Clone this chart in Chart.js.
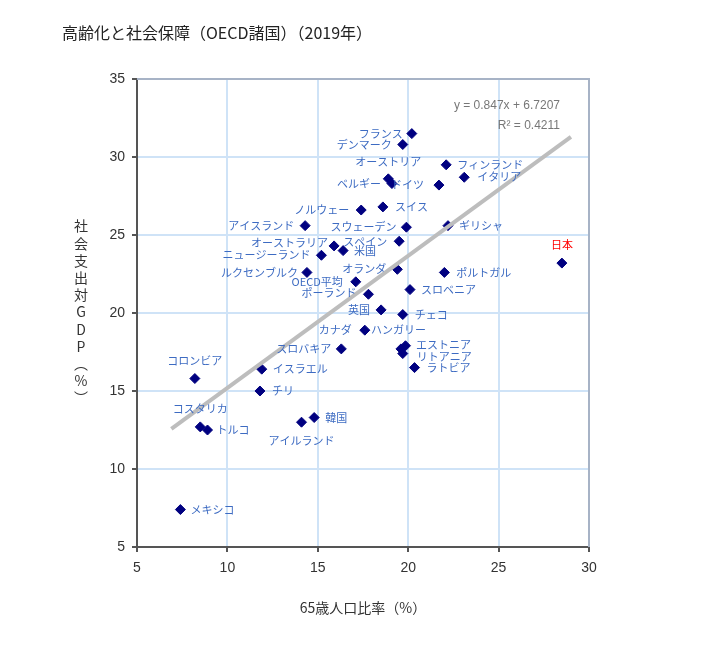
<!DOCTYPE html>
<html lang="ja">
<head>
<meta charset="UTF-8" />
<title>高齢化と社会保障</title>
<script src="https://cdn.jsdelivr.net/npm/chart.js@4.4.1/dist/chart.umd.min.js"></script>
<style>
  body { margin: 0; background: #fff; }
</style>
</head>
<body>
<div style="width: 703px; height: 650px">
  <canvas id="chart" width="703" height="650"></canvas>
</div>
<script>
// data
const countries = [
  "フランス", "デンマーク", "オーストリア", "ベルギー", "ドイツ", "フィンランド", "イタリア",
  "ノルウェー", "スイス", "アイスランド", "スウェーデン", "ギリシャ", "スペイン", "オーストラリア",
  "米国", "ニュージーランド", "オランダ", "ルクセンブルク", "ポルトガル", "OECD平均", "スロベニア",
  "ポーランド", "英国", "チェコ", "カナダ", "ハンガリー", "エストニア", "リトアニア", "ラトビア",
  "スロバキア", "コロンビア", "イスラエル", "チリ", "コスタリカ", "トルコ", "韓国", "アイルランド",
  "メキシコ", "日本"
];
const aged65 = [
  20.2, 19.7, 18.9, 19.1, 21.7, 22.1, 23.1,
  17.4, 18.6, 14.3, 19.9, 22.2, 19.5, 15.9,
  16.4, 15.2, 19.4, 14.4, 22.0, 17.1, 20.1,
  17.8, 18.5, 19.7, 17.6, 19.85, 19.6, 19.7, 20.35,
  16.3, 8.2, 11.9, 11.8, 8.5, 8.9, 14.8, 14.1,
  7.4, 28.5
];
const socialSpending = [
  31.5, 30.8, 28.6, 28.3, 28.2, 29.5, 28.7,
  26.6, 26.8, 25.6, 25.5, 25.6, 24.6, 24.3,
  24.0, 23.7, 22.8, 22.6, 22.6, 22.0, 21.5,
  21.2, 20.2, 19.9, 18.9, 17.9, 17.7, 17.4, 16.5,
  17.7, 15.8, 16.4, 15.0, 12.7, 12.5, 13.3, 13.0,
  7.4, 23.2
];
const xTicks = [5, 10, 15, 20, 25, 30];
const yTicks = [5, 10, 15, 20, 25, 30, 35];
const trendSlope = 0.847;
const trendIntercept = 6.7207;
const trendText = ["y = 0.847x + 6.7207", "R² = 0.4211"];

// label placement: [dx, dy, align]
const labelPlace = {
  "フランス": [-9, 0, "right"], "デンマーク": [-11, 0, "right"], "オーストリア": [0, -17, "center"],
  "ベルギー": [-11, 0, "right"], "ドイツ": [-15, 0, "right"], "フィンランド": [11, 0, "left"],
  "イタリア": [13, 0, "left"], "ノルウェー": [-12, 0, "right"], "スイス": [12, 0, "left"],
  "アイスランド": [-11, 0, "right"], "スウェーデン": [-10, 0, "right"], "ギリシャ": [11, 0, "left"],
  "スペイン": [-12, 1, "right"], "オーストラリア": [-6, -3, "right"], "米国": [11, 0, "left"],
  "ニュージーランド": [-11, 0, "right"], "オランダ": [-11, -1, "right"], "ルクセンブルク": [-9, 0, "right"],
  "ポルトガル": [12, 0, "left"], "OECD平均": [-13, 0, "right"], "スロベニア": [11, 0, "left"],
  "ポーランド": [-12, -1, "right"], "英国": [-11, 0, "right"], "チェコ": [12, 0, "left"],
  "カナダ": [-13, 0, "right"], "ハンガリー": [-7, -16, "center"], "エストニア": [15, -4, "left"],
  "リトアニア": [14, 3, "left"], "ラトビア": [12, 0, "left"], "スロバキア": [-10, 0, "right"],
  "コロンビア": [0, -18, "center"], "イスラエル": [11, 0, "left"], "チリ": [12, 0, "left"],
  "コスタリカ": [0, -18, "center"], "トルコ": [9, 0, "left"], "韓国": [11, 0, "left"],
  "アイルランド": [0, 19, "center"], "メキシコ": [10, 0, "left"], "日本": [0, -18, "center"]
};

const jpFont = '"Noto Sans CJK JP", "Noto Sans", sans-serif';

const points = countries.map((c, i) => ({ x: aged65[i], y: socialSpending[i] }));
const xMin = Math.min(...aged65) - 0.5;
const xMax = Math.max(...aged65) + 0.5;
const trend = [
  { x: xMin, y: trendSlope * xMin + trendIntercept },
  { x: xMax, y: trendSlope * xMax + trendIntercept }
];

const decorPlugin = {
  id: "decor",
  beforeDatasetsDraw(chart) {
    const { ctx, chartArea: a } = chart;
    ctx.save();
    ctx.strokeStyle = "#a7b3c6";
    ctx.lineWidth = 2;
    ctx.beginPath();
    ctx.moveTo(a.left, a.top);
    ctx.lineTo(a.right, a.top);
    ctx.lineTo(a.right, a.bottom);
    ctx.stroke();
    ctx.restore();
  },
  afterDraw(chart) {
    const { ctx, chartArea: a, scales } = chart;
    ctx.save();
    // title
    ctx.fillStyle = "#222";
    ctx.font = "16px " + jpFont;
    ctx.textAlign = "left";
    ctx.textBaseline = "middle";
    ctx.fillText("高齢化と社会保障（OECD諸国）（2019年）", 62, 33);

    // axis titles
    ctx.fillStyle = "#333";
    ctx.font = "14px " + jpFont;
    ctx.textAlign = "center";
    ctx.fillText("65歳人口比率（%）", (a.left + a.right) / 2, 608);
    const yChars = ["社", "会", "支", "出", "対", "G", "D", "P", "︵", "%", "︶"];
    yChars.forEach((ch, i) => ctx.fillText(ch, 81, 226 + i * 17.2));

    // trend equation
    ctx.fillStyle = "#777";
    ctx.font = "12px 'Liberation Sans', Arial, sans-serif";
    ctx.textAlign = "right";
    ctx.fillText(trendText[0], 560, 106);
    ctx.fillText(trendText[1], 560, 126);

    // point labels
    ctx.font = "11px " + jpFont;
    countries.forEach((name, i) => {
      const px = scales.x.getPixelForValue(aged65[i]);
      const py = scales.y.getPixelForValue(socialSpending[i]);
      const p = labelPlace[name] || [10, 0, "left"];
      ctx.fillStyle = name === "日本" ? "#ff0000" : "#3d6bc2";
      ctx.textAlign = p[2];
      ctx.fillText(name, px + p[0], py + p[1]);
    });
    ctx.restore();
  }
};

new Chart(document.getElementById("chart"), {
  type: "scatter",
  data: {
    datasets: [
      {
        type: "line",
        data: trend,
        borderColor: "#bdbdbd",
        borderWidth: 4,
        pointRadius: 0,
        fill: false
      },
      {
        data: points,
        pointStyle: "rectRot",
        pointRadius: 5,
        backgroundColor: "#000080",
        borderColor: "#000080",
        borderWidth: 1
      }
    ]
  },
  plugins: [decorPlugin],
  options: {
    responsive: false,
    animation: false,
    layout: { padding: { top: 79, right: 114, left: 0, bottom: 0 } },
    plugins: {
      legend: { display: false },
      tooltip: { enabled: false }
    },
    scales: {
      x: {
        type: "linear",
        min: xTicks[0],
        max: xTicks[xTicks.length - 1],
        afterBuildTicks: (s) => { s.ticks = xTicks.map((v) => ({ value: v })); },
        afterFit: (s) => { s.height = 103; },
        grid: { color: "#cfe3f7", lineWidth: 2, tickLength: 5, tickColor: "#555" },
        border: { color: "#555", width: 2 },
        ticks: {
          color: "#333",
          padding: 8,
          font: { family: "'Liberation Sans', Arial, sans-serif", size: 14 }
        }
      },
      y: {
        type: "linear",
        min: yTicks[0],
        max: yTicks[yTicks.length - 1],
        afterBuildTicks: (s) => { s.ticks = yTicks.map((v) => ({ value: v })); },
        afterFit: (s) => { s.width = 137; },
        grid: { color: "#cfe3f7", lineWidth: 2, tickLength: 5, tickColor: "#555" },
        border: { color: "#555", width: 2 },
        ticks: {
          color: "#333",
          padding: 7,
          font: { family: "'Liberation Sans', Arial, sans-serif", size: 14 }
        }
      }
    }
  }
});
</script>
</body>
</html>
